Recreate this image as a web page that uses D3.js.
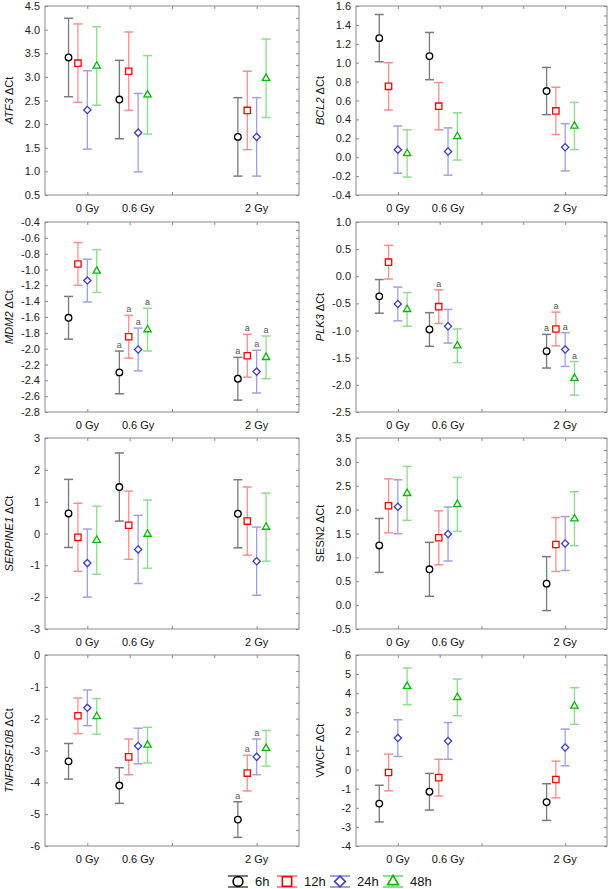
<!DOCTYPE html>
<html><head><meta charset="utf-8">
<script src="https://cdn.jsdelivr.net/npm/d3@7"></script>
<style>body{margin:0;background:#fff} svg{display:block;font-family:"Liberation Sans",Arial,sans-serif}</style>
</head><body><svg id="c" width="609" height="889"></svg>
<script>
// ---------- data ----------
const doses = [0, 0.6, 2];
const doseLabels = ["0 Gy", "0.6 Gy", "2 Gy"];
const seriesNames = ["6h", "12h", "24h", "48h"];
const genes = ["ATF3", "BCL2", "MDM2", "PLK3", "SERPINE1", "SESN2", "TNFRSF10B", "VWCF"];
const italicGene = [true, true, true, true, true, false, true, false];
const yDomains = [[0.5, 4.5], [-0.4, 1.6], [-2.8, -0.4], [-2.5, 1.0], [-3, 3], [-0.5, 3.5], [-6, 0], [-4, 6]];
const yTickSteps = [0.5, 0.2, 0.2, 0.5, 1, 0.5, 1, 1];
const yDecimals = [1, 1, 1, 1, 0, 1, 0, 0];
// mean ΔCt: rows = doses (0, 0.6, 2 Gy), columns = 6h, 12h, 24h, 48h
const meanATF3 = [[3.41, 3.29, 2.30, 3.23], [2.52, 3.12, 1.82, 2.62], [1.73, 2.29, 1.73, 2.97]];
const meanBCL2 = [[1.26, 0.75, 0.08, 0.04], [1.07, 0.54, 0.06, 0.22], [0.70, 0.49, 0.105, 0.33]];
const meanMDM2 = [[-1.61, -0.93, -1.14, -1.02], [-2.30, -1.85, -2.01, -1.76], [-2.38, -2.09, -2.29, -2.11]];
const meanPLK3 = [[-0.37, 0.26, -0.51, -0.61], [-0.98, -0.56, -0.92, -1.28], [-1.38, -0.97, -1.35, -1.88]];
const meanSERPINE1 = [[0.63, -0.12, -0.93, -0.21], [1.46, 0.26, -0.50, -0.02], [0.62, 0.39, -0.87, 0.20]];
const meanSESN2 = [[1.25, 2.08, 2.06, 2.34], [0.75, 1.41, 1.49, 2.11], [0.45, 1.27, 1.29, 1.81]];
const meanTNFRSF10B = [[-3.34, -1.91, -1.66, -1.93], [-4.10, -3.20, -2.86, -2.83], [-5.17, -3.71, -3.20, -2.93]];
const meanVWCF = [[-1.78, -0.15, 1.65, 4.36], [-1.16, -0.42, 1.50, 3.78], [-1.70, -0.52, 1.16, 3.33]];
// half-width of error bars per gene
const errHalf = [0.83, 0.25, 0.27, 0.31, 1.07, 0.565, 0.56, 0.96];
// significance marks "a": rows = doses, columns = series
const sigNone = [[0, 0, 0, 0], [0, 0, 0, 0], [0, 0, 0, 0]];
const sigMDM2 = [[0, 0, 0, 0], [1, 1, 1, 1], [1, 1, 1, 1]];
const sigPLK3 = [[0, 0, 0, 0], [0, 1, 0, 0], [1, 1, 1, 1]];
const sigTNFRSF10B = [[0, 0, 0, 0], [0, 0, 0, 0], [1, 1, 1, 0]];

const means = [meanATF3, meanBCL2, meanMDM2, meanPLK3, meanSERPINE1, meanSESN2, meanTNFRSF10B, meanVWCF];
const sigs = [sigNone, sigNone, sigMDM2, sigPLK3, sigNone, sigNone, sigTNFRSF10B, sigNone];

// ---------- styles / layout ----------
const markerColor = ["#000000", "#ff0000", "#3a3ad0", "#00bb00"];
const barColor = ["#7a7a7a", "#ff8c8c", "#a0a0e4", "#8cdf8c"];
const symbolTypes = [d3.symbolCircle, d3.symbolSquare, d3.symbolSquare, d3.symbolTriangle];
const symbolRotate = [0, 0, 45, 0];
const symbolSizes = [34, 40, 26, 23];
const seriesOffset = [-0.222, -0.111, 0, 0.111];
const colX = [[45, 299], [356, 607]];
const rowY = [[6, 195], [222, 412], [438, 629], [655, 846]];

const loc = d3.formatLocale({decimal: ".", thousands: ",", grouping: [3], currency: ["", ""], minus: "-"});
const svg = d3.select("#c");
const frameColor = "#8a8a8a";

genes.forEach((gene, i) => {
  const col = i % 2, row = Math.floor(i / 2);
  const [x0, x1] = colX[col], [y0, y1] = rowY[row];
  const x = d3.scaleLinear().domain([-0.5, 2.5]).range([x0, x1]);
  const y = d3.scaleLinear().domain(yDomains[i]).range([y1, y0]);
  const g = svg.append("g");
  const step = yTickSteps[i];
  const [d0, d1] = yDomains[i];
  const n = Math.round((d1 - d0) / step);
  const majors = d3.range(n + 1).map(k => +(d0 + k * step).toFixed(4));
  const halves = d3.range(2 * n + 1).map(k => +(d0 + k * step / 2).toFixed(4));
  const fmt = loc.format("." + yDecimals[i] + "f");

  const ax = g.append("g").attr("transform", `translate(${x0},0)`)
    .call(d3.axisLeft(y).tickValues(majors).tickFormat(fmt).tickSizeInner(-3).tickSizeOuter(0).tickPadding(5));
  ax.select(".domain").remove();
  ax.selectAll("line").attr("stroke", frameColor);
  ax.selectAll("text").attr("font-size", 11).attr("fill", "#222")
    .attr("font-family", "'Liberation Sans', Arial, sans-serif");
  const ar = g.append("g").attr("transform", `translate(${x1},0)`)
    .call(d3.axisRight(y).tickValues(halves).tickFormat("").tickSizeInner(-3).tickSizeOuter(0));
  ar.select(".domain").remove();
  ar.selectAll("line").attr("stroke", frameColor);
  const ab = g.append("g").attr("transform", `translate(0,${y1})`)
    .call(d3.axisBottom(x).tickValues([0, 1, 2]).tickFormat("").tickSizeInner(-3).tickSizeOuter(0));
  ab.select(".domain").remove();
  ab.selectAll("line").attr("stroke", frameColor);
  const at = g.append("g").attr("transform", `translate(0,${y0})`)
    .call(d3.axisTop(x).tickValues([0, 0.5, 1, 1.5, 2]).tickFormat("").tickSizeInner(-3).tickSizeOuter(0));
  at.select(".domain").remove();
  at.selectAll("line").attr("stroke", frameColor);

  g.append("rect").attr("x", x0).attr("y", y0).attr("width", x1 - x0).attr("height", y1 - y0)
    .attr("fill", "none").attr("stroke", frameColor).attr("stroke-width", 1);

  g.selectAll("text.xl").data(doses).enter().append("text").attr("class", "xl")
    .attr("x", d => x(d)).attr("y", y1 + 17).attr("text-anchor", "middle")
    .attr("font-size", 11).attr("fill", "#111").text((d, k) => doseLabels[k]);

  const t = g.append("text").attr("transform", `translate(${x0 - 32},${(y0 + y1) / 2}) rotate(-90)`)
    .attr("text-anchor", "middle").attr("font-size", 11).attr("fill", "#111");
  t.append("tspan").attr("font-style", italicGene[i] ? "italic" : "normal").text(gene);
  t.append("tspan").text(" \u0394Ct");

  const pts = [];
  doses.forEach((dv, di) => seriesNames.forEach((s, si) => {
    pts.push({dv, di, si, m: means[i][di][si], e: errHalf[i], sig: sigs[i][di][si]});
  }));
  const pg = g.selectAll("g.pt").data(pts).enter().append("g").attr("class", "pt")
    .attr("transform", d => `translate(${x(d.dv + seriesOffset[d.si])},0)`);
  pg.append("line").attr("x1", 0).attr("x2", 0).attr("y1", d => y(d.m + d.e)).attr("y2", d => y(d.m - d.e))
    .attr("stroke", d => barColor[d.si]).attr("stroke-width", 1.3);
  pg.append("line").attr("x1", -4.5).attr("x2", 4.5).attr("y1", d => y(d.m + d.e)).attr("y2", d => y(d.m + d.e))
    .attr("stroke", d => barColor[d.si]).attr("stroke-width", 1.5);
  pg.append("line").attr("x1", -4.5).attr("x2", 4.5).attr("y1", d => y(d.m - d.e)).attr("y2", d => y(d.m - d.e))
    .attr("stroke", d => barColor[d.si]).attr("stroke-width", 1.5);
  pg.append("path").attr("transform", d => `translate(0,${y(d.m)}) rotate(${symbolRotate[d.si]})`)
    .attr("d", d => d3.symbol().type(symbolTypes[d.si]).size(symbolSizes[d.si])())
    .attr("fill", "#fff").attr("stroke", d => markerColor[d.si]).attr("stroke-width", 1.3);
  pg.filter(d => d.sig).append("text").attr("x", 0).attr("y", d => y(d.m + d.e) - 3)
    .attr("text-anchor", "middle").attr("font-size", 9).attr("fill", "#555").text("a");
});

// legend
const legendX = [238, 287, 340, 393];
const ly = 881.5;
const lg = svg.append("g");
seriesNames.forEach((s, si) => {
  const cx = legendX[si];
  const it = lg.append("g").attr("transform", `translate(${cx},${ly})`);
  it.append("line").attr("x1", 0).attr("x2", 0).attr("y1", -5.5).attr("y2", 5.5).attr("stroke", barColor[si]).attr("stroke-width", 1.3);
  it.append("line").attr("x1", -10).attr("x2", 10).attr("y1", -5.5).attr("y2", -5.5).attr("stroke", barColor[si]).attr("stroke-width", 2);
  it.append("line").attr("x1", -10).attr("x2", 10).attr("y1", 5.5).attr("y2", 5.5).attr("stroke", barColor[si]).attr("stroke-width", 2);
  it.append("path").attr("transform", `rotate(${symbolRotate[si]})`)
    .attr("d", d3.symbol().type(symbolTypes[si]).size(symbolSizes[si] * 2.2)())
    .attr("fill", "#fff").attr("stroke", markerColor[si]).attr("stroke-width", 1.6);
  lg.append("text").attr("x", cx + 17).attr("y", ly + 4.5).attr("font-size", 13).attr("fill", "#111").text(s);
});
</script></body></html>
